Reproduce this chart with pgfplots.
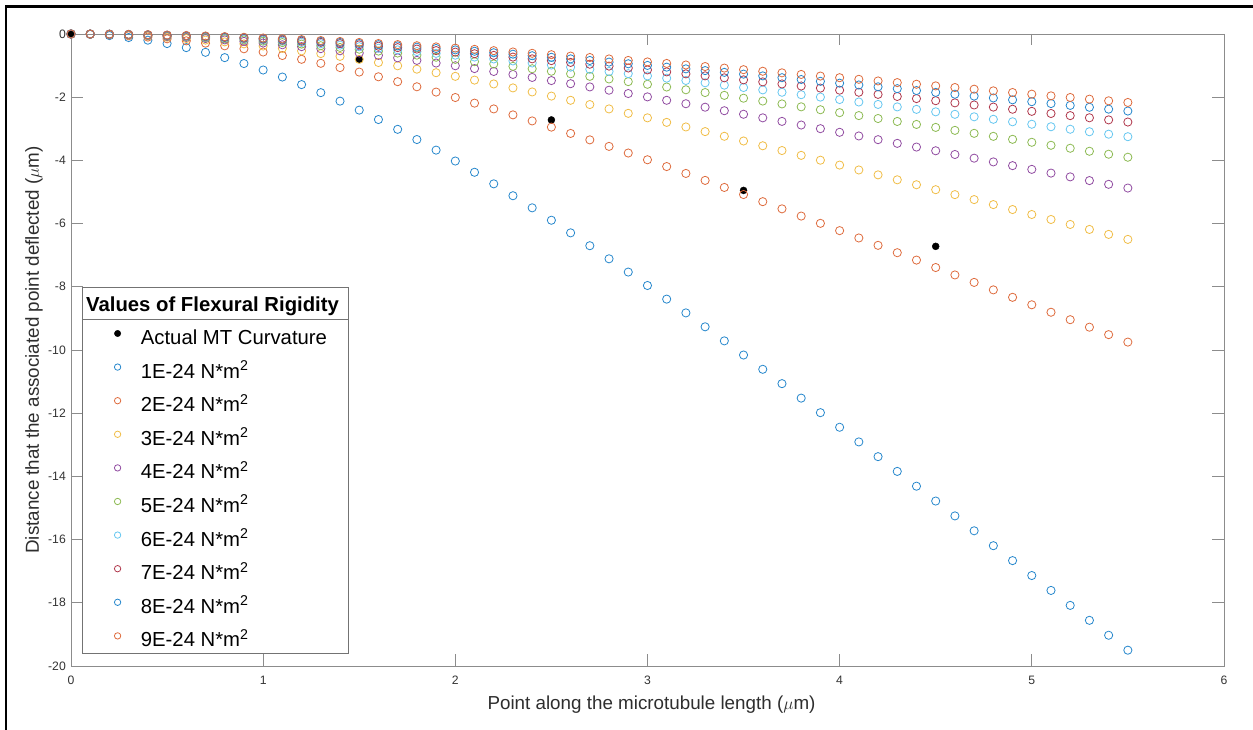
\documentclass[border=0pt]{standalone}
\usepackage{pgfplots}
\usepackage{pgfplotstable}
\pgfplotsset{compat=1.18}
\usepackage{fontspec}
\setmainfont{Liberation Sans}

\definecolor{c1}{rgb}{0.15,0.53,0.80}
\definecolor{c2}{rgb}{0.87,0.42,0.24}
\definecolor{c3}{rgb}{0.94,0.74,0.28}
\definecolor{c4}{rgb}{0.57,0.30,0.63}
\definecolor{c5}{rgb}{0.55,0.73,0.32}
\definecolor{c6}{rgb}{0.40,0.78,0.94}
\definecolor{c7}{rgb}{0.69,0.22,0.30}

\pgfplotstableread{
x   y1      y2     y3     y4     y5     y6     y7     y8     y9
0.0 0       0      0      0      0      0      0      0      0
0.1 -0.013  -0.006 -0.004 -0.003 -0.003 -0.002 -0.002 -0.002 -0.001
0.2 -0.050  -0.025 -0.017 -0.013 -0.010 -0.008 -0.007 -0.006 -0.006
0.3 -0.112  -0.056 -0.037 -0.028 -0.022 -0.019 -0.016 -0.014 -0.012
0.4 -0.196  -0.098 -0.065 -0.049 -0.039 -0.033 -0.028 -0.025 -0.022
0.5 -0.303  -0.152 -0.101 -0.076 -0.061 -0.051 -0.043 -0.038 -0.034
0.6 -0.431  -0.216 -0.144 -0.108 -0.086 -0.072 -0.062 -0.054 -0.048
0.7 -0.580  -0.290 -0.193 -0.145 -0.116 -0.097 -0.083 -0.073 -0.064
0.8 -0.748  -0.374 -0.249 -0.187 -0.150 -0.125 -0.107 -0.094 -0.083
0.9 -0.935  -0.468 -0.312 -0.234 -0.187 -0.156 -0.134 -0.117 -0.104
1.0 -1.140  -0.570 -0.380 -0.285 -0.228 -0.190 -0.163 -0.143 -0.127
1.1 -1.362  -0.681 -0.454 -0.341 -0.272 -0.227 -0.195 -0.170 -0.151
1.2 -1.601  -0.801 -0.534 -0.400 -0.320 -0.267 -0.229 -0.200 -0.178
1.3 -1.856  -0.928 -0.619 -0.464 -0.371 -0.309 -0.265 -0.232 -0.206
1.4 -2.125  -1.063 -0.708 -0.531 -0.425 -0.354 -0.304 -0.266 -0.236
1.5 -2.409  -1.205 -0.803 -0.602 -0.482 -0.402 -0.344 -0.301 -0.268
1.6 -2.707  -1.354 -0.902 -0.677 -0.541 -0.451 -0.387 -0.338 -0.301
1.7 -3.017  -1.509 -1.006 -0.754 -0.603 -0.503 -0.431 -0.377 -0.335
1.8 -3.340  -1.670 -1.113 -0.835 -0.668 -0.557 -0.477 -0.418 -0.371
1.9 -3.675  -1.838 -1.225 -0.919 -0.735 -0.613 -0.525 -0.459 -0.408
2.0 -4.020  -2.010 -1.340 -1.005 -0.804 -0.670 -0.574 -0.503 -0.447
2.1 -4.376  -2.188 -1.459 -1.094 -0.875 -0.729 -0.625 -0.547 -0.486
2.2 -4.742  -2.371 -1.581 -1.186 -0.948 -0.790 -0.677 -0.593 -0.527
2.3 -5.118  -2.559 -1.706 -1.280 -1.024 -0.853 -0.731 -0.640 -0.569
2.4 -5.501  -2.751 -1.834 -1.375 -1.100 -0.917 -0.786 -0.688 -0.611
2.5 -5.894  -2.947 -1.965 -1.474 -1.179 -0.982 -0.842 -0.737 -0.655
2.6 -6.293  -3.147 -2.098 -1.573 -1.259 -1.049 -0.899 -0.787 -0.699
2.7 -6.700  -3.350 -2.233 -1.675 -1.340 -1.117 -0.957 -0.838 -0.744
2.8 -7.114  -3.557 -2.371 -1.779 -1.423 -1.186 -1.016 -0.889 -0.790
2.9 -7.534  -3.767 -2.511 -1.884 -1.507 -1.256 -1.076 -0.942 -0.837
3.0 -7.959  -3.980 -2.653 -1.990 -1.592 -1.327 -1.137 -0.995 -0.884
3.1 -8.390  -4.195 -2.797 -2.098 -1.678 -1.398 -1.199 -1.049 -0.932
3.2 -8.826  -4.413 -2.942 -2.207 -1.765 -1.471 -1.261 -1.103 -0.981
3.3 -9.266  -4.633 -3.089 -2.317 -1.853 -1.544 -1.324 -1.158 -1.030
3.4 -9.711  -4.856 -3.237 -2.428 -1.942 -1.619 -1.387 -1.214 -1.079
3.5 -10.159 -5.080 -3.386 -2.540 -2.032 -1.693 -1.451 -1.270 -1.129
3.6 -10.611 -5.306 -3.537 -2.653 -2.122 -1.769 -1.516 -1.326 -1.179
3.7 -11.065 -5.533 -3.688 -2.766 -2.213 -1.844 -1.581 -1.383 -1.229
3.8 -11.523 -5.762 -3.841 -2.881 -2.305 -1.921 -1.646 -1.440 -1.280
3.9 -11.983 -5.992 -3.994 -2.996 -2.397 -1.997 -1.712 -1.498 -1.331
4.0 -12.445 -6.223 -4.148 -3.111 -2.489 -2.074 -1.778 -1.556 -1.383
4.1 -12.909 -6.455 -4.303 -3.227 -2.582 -2.152 -1.844 -1.614 -1.434
4.2 -13.375 -6.688 -4.458 -3.344 -2.675 -2.229 -1.911 -1.672 -1.486
4.3 -13.842 -6.921 -4.614 -3.461 -2.768 -2.307 -1.977 -1.730 -1.538
4.4 -14.310 -7.155 -4.770 -3.578 -2.862 -2.385 -2.044 -1.789 -1.590
4.5 -14.780 -7.390 -4.927 -3.695 -2.956 -2.463 -2.111 -1.848 -1.642
4.6 -15.250 -7.625 -5.083 -3.813 -3.050 -2.542 -2.179 -1.906 -1.694
4.7 -15.721 -7.861 -5.240 -3.930 -3.144 -2.620 -2.246 -1.965 -1.747
4.8 -16.193 -8.097 -5.398 -4.048 -3.239 -2.699 -2.313 -2.024 -1.799
4.9 -16.665 -8.333 -5.555 -4.166 -3.333 -2.778 -2.381 -2.083 -1.852
5.0 -17.137 -8.569 -5.712 -4.284 -3.427 -2.856 -2.448 -2.142 -1.904
5.1 -17.609 -8.805 -5.870 -4.402 -3.522 -2.935 -2.516 -2.201 -1.957
5.2 -18.082 -9.041 -6.027 -4.521 -3.616 -3.014 -2.583 -2.260 -2.009
5.3 -18.555 -9.278 -6.185 -4.639 -3.711 -3.093 -2.651 -2.319 -2.062
5.4 -19.027 -9.514 -6.342 -4.757 -3.805 -3.171 -2.718 -2.378 -2.114
5.5 -19.500 -9.750 -6.500 -4.875 -3.900 -3.250 -2.786 -2.438 -2.167
}\datatable

\pgfplotstableread{
x   y
0.0 0
1.5 -0.80
2.5 -2.72
3.5 -4.95
4.5 -6.72
}\actualtable

\begin{document}
\begin{tikzpicture}[x=1pt,y=1pt]
\path[use as bounding box] (0,0) rectangle (1253,730);
\draw[black, line width=2.7pt] (6,0) -- (6,723.5) -- (1253,723.5);
\begin{axis}[
  at={(71pt,64pt)}, anchor=south west,
  scale only axis, width=1153pt, height=632pt,
  xmin=0, xmax=6, ymin=-20, ymax=0,
  xtick={0,1,2,3,4,5,6}, ytick={-20,-18,-16,-14,-12,-10,-8,-6,-4,-2,0},
  tick align=inside, major tick length=11.5pt,
  axis line style={black!45, line width=0.8pt},
  every tick/.style={black!45, line width=0.8pt},
  /pgf/number format/assume math mode=true,
  tick label style={font=\fontsize{12.2}{14}\selectfont, text=black!80, inner sep=0pt},
  xticklabel style={anchor=north, yshift=-10pt},
  yticklabel style={anchor=east, xshift=-5pt},
  xlabel={Point along the microtubule length ($\mu$m)},
  ylabel={Distance that the associated point deflected ($\mu$m)},
  label style={font=\fontsize{18.8}{22}\selectfont, text=black!82, inner sep=0pt},
  xlabel style={at={(axis description cs:0.5035,-0.0685)}, anchor=base},
  ylabel style={at={(axis description cs:-0.02775,0.5)}, anchor=base},
  legend image code/.code={\draw[#1, mark size=3.2pt] plot coordinates {(0pt,0pt)};},
  legend style={at={(axis description cs:0.03764,0.5527)}, anchor=north west,
    draw=none, fill=none, inner sep=0pt, outer sep=0pt,
    column sep=20.1pt, row sep=0pt,
    font=\fontsize{20.3}{24}\selectfont,
    nodes={inner sep=0pt, outer sep=0pt, text height=27.8pt, text depth=5.8pt, anchor=west}},
]
\addplot[only marks, mark=*, mark size=3.5pt, color=black, fill=black] table[x=x, y=y] {\actualtable};
\addlegendentry{Actual MT Curvature}
\addplot[only marks, mark=o, mark size=4.1pt, line width=0.8pt, color=c1] table[x=x, y=y1] {\datatable};
\addlegendentry{1E-24 N*m\textsuperscript{2}}
\addplot[only marks, mark=o, mark size=4.1pt, line width=0.8pt, color=c2] table[x=x, y=y2] {\datatable};
\addlegendentry{2E-24 N*m\textsuperscript{2}}
\addplot[only marks, mark=o, mark size=4.1pt, line width=0.8pt, color=c3] table[x=x, y=y3] {\datatable};
\addlegendentry{3E-24 N*m\textsuperscript{2}}
\addplot[only marks, mark=o, mark size=4.1pt, line width=0.8pt, color=c4] table[x=x, y=y4] {\datatable};
\addlegendentry{4E-24 N*m\textsuperscript{2}}
\addplot[only marks, mark=o, mark size=4.1pt, line width=0.8pt, color=c5] table[x=x, y=y5] {\datatable};
\addlegendentry{5E-24 N*m\textsuperscript{2}}
\addplot[only marks, mark=o, mark size=4.1pt, line width=0.8pt, color=c6] table[x=x, y=y6] {\datatable};
\addlegendentry{6E-24 N*m\textsuperscript{2}}
\addplot[only marks, mark=o, mark size=4.1pt, line width=0.8pt, color=c7] table[x=x, y=y7] {\datatable};
\addlegendentry{7E-24 N*m\textsuperscript{2}}
\addplot[only marks, mark=o, mark size=4.1pt, line width=0.8pt, color=c1] table[x=x, y=y8] {\datatable};
\addlegendentry{8E-24 N*m\textsuperscript{2}}
\addplot[only marks, mark=o, mark size=4.1pt, line width=0.8pt, color=c2] table[x=x, y=y9] {\datatable};
\addlegendentry{9E-24 N*m\textsuperscript{2}}
\end{axis}
% legend frame and title
\draw[black!55, line width=0.8pt] (82.3,442.7) rectangle (348,77);
\draw[black!55, line width=0.8pt] (82.3,410.7) -- (348,410.7);
\node[anchor=base west, inner sep=0pt, font=\fontsize{20.3}{24}\selectfont\bfseries] at (86,418.3) {Values of Flexural Rigidity};
\end{tikzpicture}
\end{document}
